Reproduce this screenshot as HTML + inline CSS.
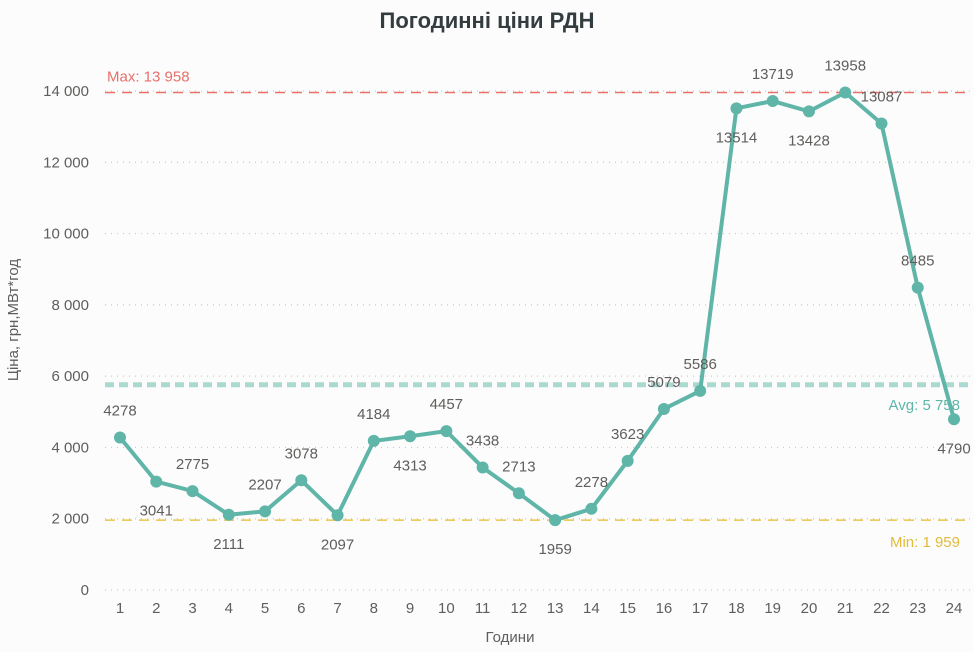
<!DOCTYPE html>
<html><head><meta charset="utf-8"><style>
html,body{margin:0;padding:0;background:#fcfcfc;}
svg{display:block;font-family:"Liberation Sans",sans-serif;}
</style></head><body>
<svg id="chart" width="974" height="652">
<text x="487" y="28" text-anchor="middle" font-size="22" font-weight="bold" fill="#333c3f">Погодинні ціни РДН</text>
<text transform="translate(18,320) rotate(-90)" text-anchor="middle" font-size="15" fill="#605e5c">Ціна, грн,МВт*год</text>
<text x="510" y="642" text-anchor="middle" font-size="15" fill="#605e5c">Години</text>
<g id="grid"></g><g id="refs"></g><g id="series"></g><g id="labels"></g>
</svg>
<script>
const hours=[1,2,3,4,5,6,7,8,9,10,11,12,13,14,15,16,17,18,19,20,21,22,23,24];
const prices=[4278,3041,2775,2111,2207,3078,2097,4184,4313,4457,3438,2713,1959,2278,3623,5079,5586,13514,13719,13428,13958,13087,8485,4790];
const yTicks=[0,2000,4000,6000,8000,10000,12000,14000];
const yTickLabels=["0","2 000","4 000","6 000","8 000","10 000","12 000","14 000"];
const labelSide=["a","b","a","b","a","a","b","a","b","a","a","a","b","a","a","a","a","b","a","b","a","a","a","b"];
const NS="http://www.w3.org/2000/svg";
const X=h=>120+(h-1)*(954-120)/23;
const Y=v=>590-v*(499/14000);
function mk(tag,attrs,parent,txt){const e=document.createElementNS(NS,tag);for(const k in attrs)e.setAttribute(k,attrs[k]);if(txt!==undefined)e.textContent=txt;document.getElementById(parent).appendChild(e);return e;}
yTicks.forEach((v,i)=>{
 const g=mk('line',{x1:105,x2:970,y1:Y(v),y2:Y(v),stroke:'#c8c8c8','stroke-width':1.2,'stroke-dasharray':'1 5'},'grid');
 
 
 const t=mk('text',{x:89,y:Y(v)+5,'text-anchor':'end','font-size':15,fill:'#605e5c'},'grid',yTickLabels[i]);
 
 
});
hours.forEach(h=>{
 const t=mk('text',{x:X(h),y:613,'text-anchor':'middle','font-size':15,fill:'#605e5c'},'grid',String(h));
 
 
});
const maxV=Math.max(...prices),minV=Math.min(...prices),avgV=prices.reduce((a,b)=>a+b,0)/prices.length;
const fmt=v=>String(Math.round(v)).replace(/\B(?=(\d{3})+(?!\d))/g,' ');
let l=mk('line',{x1:105,x2:970,y1:Y(maxV),y2:Y(maxV),stroke:'#e8706a','stroke-width':1.5,'stroke-dasharray':'10 7'},'refs');


l=mk('line',{x1:105,x2:970,y1:Y(avgV),y2:Y(avgV),stroke:'#a9d9cf','stroke-width':5,'stroke-dasharray':'9 5'},'refs');


l=mk('line',{x1:105,x2:970,y1:Y(minV),y2:Y(minV),stroke:'#e8c64a','stroke-width':1.5,'stroke-dasharray':'10 7'},'refs');


let t=mk('text',{x:107,y:Y(maxV)-11,'font-size':15,fill:'#e8706a'},'refs','Max: '+fmt(maxV));


t=mk('text',{x:960,y:Y(avgV)+25,'text-anchor':'end','font-size':15,fill:'#5fb5a8'},'refs','Avg: '+fmt(avgV));


t=mk('text',{x:960,y:Y(minV)+27,'text-anchor':'end','font-size':15,fill:'#e0bc3a'},'refs','Min: '+fmt(minV));


const pts=hours.map((h,i)=>X(h)+','+Y(prices[i])).join(' ');
const pl=mk('polyline',{points:pts,fill:'none',stroke:'#5fb5a8','stroke-width':4,'stroke-linejoin':'round'},'series');


hours.forEach((h,i)=>{
 const c=mk('circle',{cx:X(h),cy:Y(prices[i]),r:6,fill:'#5fb5a8'},'series');
 
 
 const dy=labelSide[i]==='a'?-22:34;
 const lt=mk('text',{x:X(h),y:Y(prices[i])+dy,'text-anchor':'middle','font-size':15,fill:'#605e5c'},'labels',String(prices[i]));
 
 
});
</script>
</body></html>
